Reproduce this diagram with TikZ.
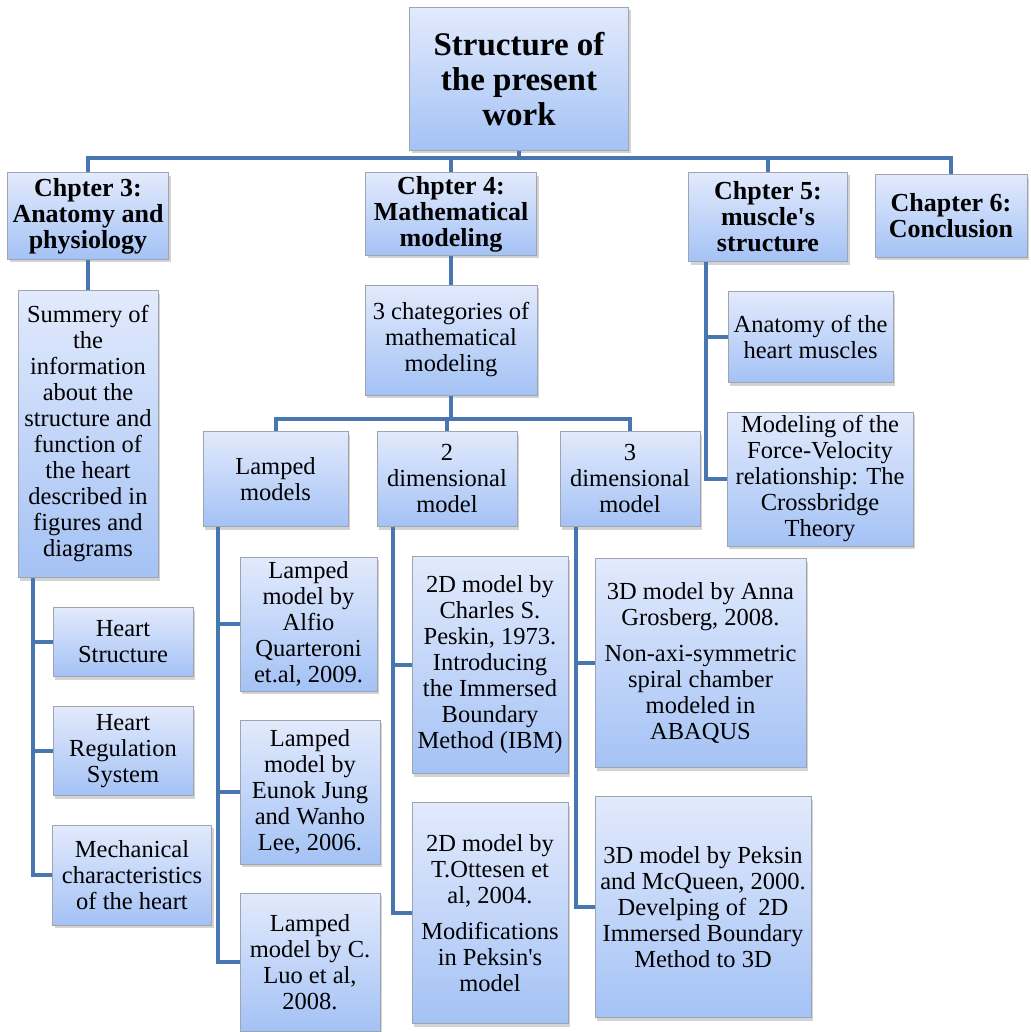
\documentclass[tikz,border=0pt]{standalone}
\usepackage{fontspec}
\setmainfont{Liberation Serif}
\usetikzlibrary{shadows}
\definecolor{linkblue}{RGB}{72,118,176}
\definecolor{boxtop}{RGB}{226,234,252}
\definecolor{boxbottom}{RGB}{164,194,245}
\definecolor{boxline}{RGB}{158,164,176}
\begin{document}
\begin{tikzpicture}
		[x=1pt,y=-1pt,
		 secbox/.style={rectangle,draw=boxline,line width=1pt,top color=boxtop,bottom color=boxbottom,
		   drop shadow={shadow xshift=2pt,shadow yshift=-3pt,opacity=0.35},
		   align=center,inner sep=2pt,font=\fontsize{24.5}{26}\selectfont},
		 chapbox/.style={secbox,font=\fontsize{26}{26}\selectfont\bfseries},
		 titlebox/.style={secbox,font=\fontsize{33}{35}\selectfont\bfseries},
		 link/.style={draw=linkblue,line width=4pt}]
		\useasboundingbox (0,0) rectangle (1030,1032);
		% top level
		\node (Root) [titlebox,minimum width=219,minimum height=143] at (519,79) {Structure of\\the present\\work};
		\node (Chap3) [chapbox,minimum width=161,minimum height=86] at (88,216) {Chpter 3:\\Anatomy and\\physiology};
		\node (Chap4) [chapbox,minimum width=171,minimum height=82] at (451,214) {Chpter 4:\\Mathematical\\modeling};
		\node (Chap5) [chapbox,minimum width=159,minimum height=89] at (768,217) {Chpter 5:\\muscle\textquotesingle s\\structure};
		\node (Chap6) [chapbox,minimum width=152,minimum height=82] at (951,216) {Chapter 6:\\Conclusion};
		% chapter 3
		\node (Summary) [secbox,minimum width=140,minimum height=287] at (88,434) {Summery of\\the\\information\\about the\\structure and\\function of\\the heart\\described in\\figures and\\diagrams};
		\node (HeartStruct) [secbox,minimum width=140,minimum height=69] at (123,642) {Heart\\Structure};
		\node (HeartReg) [secbox,minimum width=140,minimum height=89] at (123,751) {Heart\\Regulation\\System};
		\node (MechChar) [secbox,minimum width=159,minimum height=100] at (132,875) {Mechanical\\characteristics\\of the heart};
		% chapter 4
		\node (Categories) [secbox,minimum width=172,minimum height=110] at (451,340) {3 chategories of\\mathematical\\modeling};
		\node (Lumped) [secbox,minimum width=145,minimum height=95] at (275.5,479) {Lamped\\models};
		\node (TwoDim) [secbox,minimum width=140,minimum height=95] at (447,479) {2\\dimensional\\model};
		\node (ThreeDim) [secbox,minimum width=140,minimum height=95] at (630,479) {3\\dimensional\\model};
		\node (Quarteroni) [secbox,minimum width=137,minimum height=134] at (308.5,624) {Lamped\\model by\\Alfio\\Quarteroni\\et.al, 2009.};
		\node (Jung) [secbox,minimum width=140,minimum height=144] at (310,792) {Lamped\\model by\\Eunok Jung\\and Wanho\\Lee, 2006.};
		\node (Luo) [secbox,minimum width=140,minimum height=138] at (310,962) {Lamped\\model by C.\\Luo et al,\\2008.};
		\node (Peskin) [secbox,minimum width=156,minimum height=217] at (490,665) {2D model by\\Charles S.\\Peskin, 1973.\\Introducing\\the Immersed\\Boundary\\Method (IBM)};
		\node (Ottesen) [secbox,minimum width=156,minimum height=221] at (490,913) {2D model by\\T.Ottesen et\\al, 2004.\\[10pt]Modifications\\in Peksin\textquotesingle s\\model};
		\node (Grosberg) [secbox,minimum width=211,minimum height=209] at (700.5,663) {3D model by Anna\\Grosberg, 2008.\\[10pt]Non-axi-symmetric\\spiral chamber\\modeled in\\ABAQUS};
		\node (McQueen) [secbox,minimum width=216,minimum height=221] at (703,907) {3D model by Peksin\\and McQueen, 2000.\\Develping of\ \ 2D\\Immersed Boundary\\Method to 3D};
		% chapter 5
		\node (HeartMuscle) [secbox,minimum width=165,minimum height=91] at (810.5,337) {Anatomy of the\\heart muscles};
		\node (ForceVel) [secbox,minimum width=186,minimum height=134] at (820,479) {Modeling of the\\Force-Velocity\\relationship: The\\Crossbridge\\Theory};
		% connectors
		\coordinate (TopBus) at (519,158);
		\coordinate (MidBus) at (451,419);
		\draw[link] (Root.south) -- (TopBus);
		\draw[link] (Chap3.north) |- (TopBus) -| (Chap6.north);
		\draw[link] (Chap4.north) |- (TopBus);
		\draw[link] (Chap5.north) |- (TopBus);
		\draw[link] (Chap3.south) -- (Summary.north);
		\draw[link] ([xshift=15]Summary.south west) |- (HeartStruct.west);
		\draw[link] ([xshift=15]Summary.south west) |- (HeartReg.west);
		\draw[link] ([xshift=15]Summary.south west) |- (MechChar.west);
		\draw[link] (Chap4.south) -- (Categories.north);
		\draw[link] (Categories.south) -- (MidBus);
		\draw[link] (Lumped.north) |- (MidBus) -| (ThreeDim.north);
		\draw[link] (TwoDim.north) |- (MidBus);
		\draw[link] ([xshift=15]Lumped.south west) |- (Quarteroni.west);
		\draw[link] ([xshift=15]Lumped.south west) |- (Jung.west);
		\draw[link] ([xshift=15]Lumped.south west) |- (Luo.west);
		\draw[link] ([xshift=16]TwoDim.south west) |- (Peskin.west);
		\draw[link] ([xshift=16]TwoDim.south west) |- (Ottesen.west);
		\draw[link] ([xshift=16]ThreeDim.south west) |- (Grosberg.west);
		\draw[link] ([xshift=16]ThreeDim.south west) |- (McQueen.west);
		\draw[link] ([xshift=18]Chap5.south west) |- (HeartMuscle.west);
		\draw[link] ([xshift=18]Chap5.south west) |- (ForceVel.west);
	\end{tikzpicture}
\end{document}
